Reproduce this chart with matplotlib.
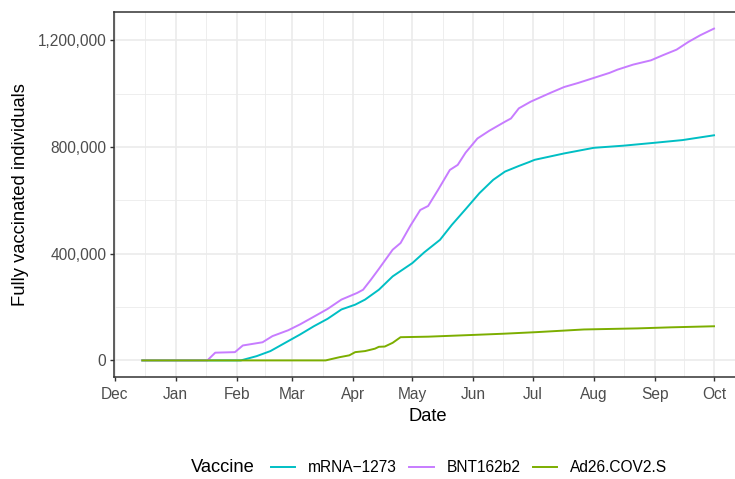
import numpy as np
import pandas as pd
import matplotlib
matplotlib.use("Agg")
import matplotlib.pyplot as plt
import matplotlib.dates as mdates
from matplotlib.lines import Line2D
from matplotlib.ticker import FixedLocator, FuncFormatter

plt.rcParams['font.family'] = ['Liberation Sans', 'DejaVu Sans']

# Data (cumulative fully vaccinated individuals)
mrna_dates = ["2020-12-15", "2021-02-03", "2021-02-11", "2021-02-18", "2021-02-25",
              "2021-03-05", "2021-03-12", "2021-03-19", "2021-03-26", "2021-04-02",
              "2021-04-07", "2021-04-14", "2021-04-21", "2021-05-01", "2021-05-07",
              "2021-05-15", "2021-05-21", "2021-05-28", "2021-06-04", "2021-06-11",
              "2021-06-17", "2021-06-24", "2021-06-29", "2021-07-02", "2021-07-17",
              "2021-08-01", "2021-08-16", "2021-09-01", "2021-09-15", "2021-10-01"]
mrna_vals = [0, 0, 16000, 35000, 64000,
             97000, 128000, 156000, 191000, 209000,
             228000, 265000, 315000, 365000, 405000,
             452000, 508000, 567000, 627000, 677000,
             708000, 729000, 743000, 752000, 776000,
             797000, 805000, 816000, 826000, 844000]

bnt_dates = ["2020-12-15", "2021-01-17", "2021-01-21", "2021-01-31", "2021-02-04",
             "2021-02-14", "2021-02-19", "2021-02-27", "2021-03-05", "2021-03-13",
             "2021-03-19", "2021-03-26", "2021-04-03", "2021-04-06", "2021-04-10",
             "2021-04-14", "2021-04-21", "2021-04-25", "2021-04-30", "2021-05-05",
             "2021-05-09", "2021-05-14", "2021-05-20", "2021-05-24", "2021-05-28",
             "2021-06-03", "2021-06-09", "2021-06-17", "2021-06-20", "2021-06-24",
             "2021-06-30", "2021-07-10", "2021-07-17", "2021-07-24", "2021-08-01",
             "2021-08-09", "2021-08-13", "2021-08-21", "2021-08-30", "2021-09-05",
             "2021-09-12", "2021-09-18", "2021-09-24", "2021-10-01"]
bnt_vals = [0, 0, 29000, 31000, 56000,
            68000, 91000, 113000, 135000, 168000,
            193000, 228000, 253000, 265000, 303000,
            343000, 415000, 440000, 505000, 564000,
            579000, 639000, 714000, 733000, 779000,
            832000, 861000, 895000, 907000, 945000,
            970000, 1003000, 1025000, 1040000, 1059000,
            1078000, 1090000, 1109000, 1125000, 1144000,
            1165000, 1194000, 1219000, 1244000]

ad26_dates = ["2020-12-15", "2021-03-18", "2021-03-25", "2021-03-30", "2021-04-02",
              "2021-04-07", "2021-04-12", "2021-04-14", "2021-04-17", "2021-04-21",
              "2021-04-25", "2021-05-09", "2021-05-30", "2021-06-16", "2021-07-03",
              "2021-07-27", "2021-08-23", "2021-09-09", "2021-10-01"]
ad26_vals = [0, 0, 12000, 19000, 31000,
             35000, 44000, 51000, 52000, 66000,
             87000, 89000, 95000, 100000, 106000,
             116000, 120000, 124000, 128000]

vaccines = ["mRNA\u22121273", "BNT162b2", "Ad26.COV2.S"]
colors = ["#00BFC4", "#C77CFF", "#7CAE00"]
series = [(mrna_dates, mrna_vals), (bnt_dates, bnt_vals), (ad26_dates, ad26_vals)]

fig = plt.figure(figsize=(7.35, 4.79), dpi=100)
W, H = 735, 479
ax = fig.add_axes([113.7 / W, 102 / H, (742.6 - 113.7) / W, 365 / H])

for (d, v), name, c in zip(series, vaccines, colors):
    ax.plot(pd.to_datetime(d), v, color=c, lw=1.4, label=name, solid_joinstyle='round')

# ggplot-style expansion (5%)
all_dates = pd.to_datetime(mrna_dates + bnt_dates + ad26_dates)
x0, x1 = mdates.date2num(all_dates.min()), mdates.date2num(all_dates.max())
ax.set_xlim(x0 - 0.05 * (x1 - x0), x1 + 0.05 * (x1 - x0))
ymax = max(max(mrna_vals), max(bnt_vals), max(ad26_vals))
ax.set_ylim(-0.05 * ymax, 1.05 * ymax)

months = pd.date_range("2020-12-01", "2021-10-01", freq="MS")
mnum = mdates.date2num(months)
ax.xaxis.set_major_locator(FixedLocator(mnum))
ax.xaxis.set_minor_locator(FixedLocator((mnum[:-1] + mnum[1:]) / 2))
ax.xaxis.set_major_formatter(mdates.DateFormatter("%b"))

ax.yaxis.set_major_locator(FixedLocator([0, 400000, 800000, 1200000]))
ax.yaxis.set_minor_locator(FixedLocator([200000, 600000, 1000000]))
ax.yaxis.set_major_formatter(FuncFormatter(lambda v, p: f"{int(v):,}"))

ax.grid(which='major', color='#EBEBEB', lw=1.2)
ax.grid(which='minor', color='#EBEBEB', lw=0.6)
ax.set_axisbelow(True)

for s in ax.spines.values():
    s.set_color('#333333')
    s.set_linewidth(1.1)

ax.tick_params(which='major', length=3.2, width=1, color='#333333',
               labelcolor='#4D4D4D', labelsize=11.2, pad=2)
ax.tick_params(which='minor', length=0)
ax.tick_params(axis='x', pad=4)

ax.set_xlabel("Date", fontsize=13.2, color='black', labelpad=4)
ax.set_ylabel("Fully vaccinated individuals", fontsize=13.2, color='black', labelpad=6)

# legend at the bottom, title to the left of the keys
fig.text(191.2 / W, 1 - 468 / H, "Vaccine", fontsize=13.2, ha='left', va='center')
handles = [Line2D([], [], color=c, lw=1.4) for c in colors]
fig.legend(handles, vaccines, loc='center left', bbox_to_anchor=(270.7 / W, 1 - 467.5 / H),
           ncol=3, frameon=False, fontsize=11.2, handlelength=1.57, handletextpad=0.82,
           columnspacing=0.8, borderpad=0, borderaxespad=0)

fig.savefig("out.png", dpi=100)
